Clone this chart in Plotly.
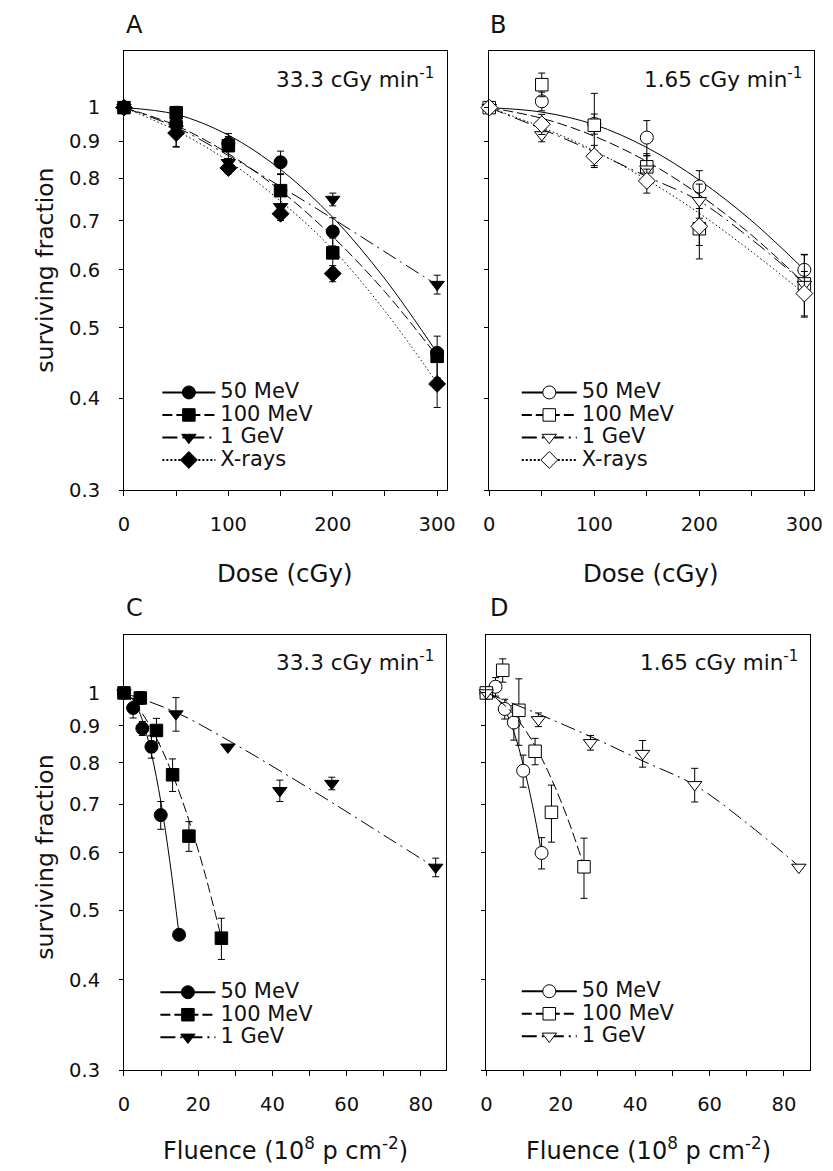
import math
import plotly.graph_objects as go

W, H = 833, 1171

# ---------------- data ----------------
dose = [0, 50, 100, 150, 200, 300]
flu_50 = [0, 2.47, 4.95, 7.4, 9.9, 14.85]
flu_100 = [0, 4.4, 8.75, 13.1, 17.5, 26.25]
flu_1g = [0, 14, 28, 42, 56, 84]

dose_fit = [0, 50, 100, 150, 200, 250, 300]
flu_fit_50 = [0, 2.47, 4.95, 7.42, 9.9, 12.37, 14.85]
flu_fit_100 = [0, 4.38, 8.75, 13.13, 17.5, 21.88, 26.25]
flu_fit_1g = [0, 14, 28, 42, 56, 70, 84]

# 33.3 cGy/min
s50_hi = [1, 0.953, 0.893, 0.842, 0.677, 0.462]
s100_hi = [1, 0.984, 0.887, 0.770, 0.633, 0.457]
s1g_hi = [1, 0.935, 0.841, 0.732, 0.749, 0.573]
sx_hi = [1, 0.923, 0.827, 0.716, 0.593, 0.419]
e50_hi = [0, 0.03, 0.02, 0.03, 0.03, 0]
e100_hi = [0, 0.02, 0.035, 0.04, 0.03, 0.03]
e1g_hi = [0, 0.05, 0, 0.025, 0.015, 0.017]
ex_hi = [0, 0.04, 0.015, 0.015, 0.015, 0.03]
fit50_hi = [1, 0.979, 0.917, 0.823, 0.708, 0.583, 0.462]
fit100_hi = [1, 0.945, 0.865, 0.77, 0.666, 0.56, 0.457]
fit1g_hi = [1, 0.94, 0.86, 0.78, 0.705, 0.635, 0.572]
fitx_hi = [1, 0.93, 0.845, 0.745, 0.64, 0.527, 0.42]

# 1.65 cGy/min
s50_lo = [1, 1.02, 0.95, 0.91, 0.78, 0.60]
s100_lo = [1, 1.075, 0.946, 0.83, 0.683, 0.574]
s1g_lo = [1, 0.918, 0.853, 0.824, 0.746, 0.573]
sx_lo = [1, 0.949, 0.858, 0.794, 0.688, 0.557]
e50_lo = [0, 0.03, 0.03, 0.05, 0.04, 0.03]
e100_lo = [0, 0.04, 0.1, 0.035, 0.062, 0.055]
e1g_lo = [0, 0.02, 0.02, 0.035, 0.04, 0]
ex_lo = [0, 0.03, 0.03, 0.03, 0.04, 0.04]
fit50_lo = [1, 0.986, 0.948, 0.882, 0.796, 0.70, 0.60]
fit100_lo = [1, 0.967, 0.914, 0.844, 0.76, 0.669, 0.575]
fit1g_lo = [1, 0.935, 0.87, 0.805, 0.745, 0.66, 0.575]
fitx_lo = [1, 0.94, 0.873, 0.797, 0.717, 0.635, 0.557]

names = ["50 MeV", "100 MeV", "1 GeV", "X-rays"]
y_ticks = [0.3, 0.4, 0.5, 0.6, 0.7, 0.8, 0.9, 1]
y_ticktext = ["0.3", "0.4", "0.5", "0.6", "0.7", "0.8", "0.9", "1"]
dose_ticks = [0, 100, 200, 300]
flu_ticks = [0, 20, 40, 60, 80]

# ---------------- styles ----------------
FONT = "DejaVu Sans"
TXT = "#111"
symbols = ["circle", "square", "triangle-down", "diamond"]
msizes = [13, 12.5, 12.5, 13]
dashes = ["solid", "10px,4px", "15px,5px,2px,5px", "1.5px,2.5px"]


def px(x, y):
    return x / W, 1 - y / H


fig = go.Figure()

axes = {"A": ("x", "y"), "B": ("x2", "y2"), "C": ("x3", "y3"), "D": ("x4", "y4")}
legends = {"A": "legend", "B": "legend2", "C": "legend3", "D": "legend4"}


def add_series(panel, i, xd, yd, ed, xf, yf, filled):
    xa, ya = axes[panel]
    mcol = "black" if filled else "white"
    fig.add_trace(go.Scatter(
        x=xf, y=yf, mode="lines", line=dict(color="black", width=1, dash=dashes[i], shape="spline"),
        xaxis=xa, yaxis=ya, showlegend=False, hoverinfo="skip", cliponaxis=False))
    fig.add_trace(go.Scatter(
        x=xd, y=yd, mode="markers",
        marker=dict(symbol=symbols[i], size=msizes[i], color=mcol, line=dict(color="black", width=1)),
        error_y=dict(type="data", array=ed, color="black", thickness=1, width=3.5),
        xaxis=xa, yaxis=ya, showlegend=False, cliponaxis=False))
    fig.add_trace(go.Scatter(
        x=[None], y=[None], mode="lines+markers",
        name="<span style='font-size:21px'>" + names[i] + "</span>",
        line=dict(color="black", width=2, dash=dashes[i] if i != 3 else "2px,2px"),
        marker=dict(symbol=symbols[i], size=msizes[i], color=mcol, line=dict(color="black", width=1)),
        xaxis=xa, yaxis=ya, legend=legends[panel]))


hi = [(s50_hi, e50_hi, fit50_hi), (s100_hi, e100_hi, fit100_hi), (s1g_hi, e1g_hi, fit1g_hi), (sx_hi, ex_hi, fitx_hi)]
lo = [(s50_lo, e50_lo, fit50_lo), (s100_lo, e100_lo, fit100_lo), (s1g_lo, e1g_lo, fit1g_lo), (sx_lo, ex_lo, fitx_lo)]
flus = [flu_50, flu_100, flu_1g]
flu_fits = [flu_fit_50, flu_fit_100, flu_fit_1g]

for i in range(4):
    s, e, f = hi[i]
    add_series("A", i, dose, s, e, dose_fit, f, True)
    s, e, f = lo[i]
    add_series("B", i, dose, s, e, dose_fit, f, False)
for i in range(3):
    s, e, f = hi[i]
    add_series("C", i, flus[i], s, e, flu_fits[i], f, True)
    s, e, f = lo[i]
    add_series("D", i, flus[i], s, e, flu_fits[i], f, False)


# ---------------- axes ----------------
def xaxis(dom, rng, ticks, minor_d, anchor):
    return dict(domain=dom, range=rng, tickvals=ticks, ticktext=[str(t) for t in ticks], anchor=anchor,
                showline=True, linecolor="black", linewidth=1, mirror=True,
                ticks="outside", ticklen=5, tickcolor="black", showgrid=False, zeroline=False,
                minor=dict(dtick=minor_d, tick0=0, ticks="outside", ticklen=5, tickcolor="black", showgrid=False),
                tickfont=dict(family=FONT, size=19.5, color=TXT), ticklabelstandoff=12, fixedrange=True)


def yaxis(dom, top, labels, anchor):
    return dict(domain=dom, type="log", range=[math.log10(0.3), math.log10(top)], anchor=anchor,
                tickvals=y_ticks, ticktext=y_ticktext, showticklabels=labels,
                showline=True, linecolor="black", linewidth=1, mirror=True,
                ticks="outside", ticklen=4, tickcolor="black", showgrid=False, zeroline=False,
                tickfont=dict(family=FONT, size=19.5, color=TXT), ticklabelstandoff=15, fixedrange=True)


top_y = [1 - 487 / H, 1 - 43.5 / H]
bot_y = [1 - 1073 / H, 1 - 633 / H]


def leg(xp, yp, iw):
    x, y = px(xp, yp)
    return dict(font=dict(family=FONT, size=15, color=TXT), bgcolor="rgba(0,0,0,0)",
                xanchor="left", yanchor="top", tracegroupgap=0, itemwidth=iw, itemclick=False,
                x=x, y=y)


fig.update_layout(
    width=W, height=H, margin=dict(l=0, r=0, t=0, b=0),
    paper_bgcolor="white", plot_bgcolor="white",
    font=dict(family=FONT, color=TXT),
    xaxis=xaxis([112 / W, 441 / W], [0, 309.5], dose_ticks, 50, "y"),
    yaxis=yaxis(top_y, 1.195, True, "x"),
    xaxis2=xaxis([484 / W, 815 / W], [0, 309.5], dose_ticks, 50, "y2"),
    yaxis2=yaxis(top_y, 1.195, False, "x2"),
    xaxis3=xaxis([112 / W, 440 / W], [0, 86.8], flu_ticks, 10, "y3"),
    yaxis3=yaxis(bot_y, 1.205, True, "x3"),
    xaxis4=xaxis([481 / W, 811 / W], [0, 87.1], flu_ticks, 10, "y4"),
    yaxis4=yaxis(bot_y, 1.205, False, "x4"),
    legend=leg(146, 372, 53),
    legend2=leg(512, 372, 55),
    legend3=leg(144, 978, 55),
    legend4=leg(512, 977, 55),
)


# ---------------- annotations ----------------
def ann(text, xp, yp, size, xanchor="center", yanchor="middle", angle=0):
    x, y = px(xp, yp)
    fig.add_annotation(text=text, x=x, y=y, xref="paper", yref="paper", showarrow=False,
                       xanchor=xanchor, yanchor=yanchor, textangle=angle,
                       font=dict(family=FONT, size=size, color=TXT))


ann("A", 123, 17, 24)
ann("B", 493, 17, 24)
ann("C", 123, 606, 24)
ann("D", 494, 606, 24)
ann("33.3 cGy min<sup>-1</sup>", 430, 71, 21.5, xanchor="right")
ann("1.65 cGy min<sup>-1</sup>", 804, 71, 21.5, xanchor="right")
ann("33.3 cGy min<sup>-1</sup>", 430, 660, 21.5, xanchor="right")
ann("1.65 cGy min<sup>-1</sup>", 800, 660, 21.5, xanchor="right")
ann("Dose (cGy)", 276, 571, 24.5)
ann("Dose (cGy)", 649, 571, 24.5)
ann("Fluence (10<sup>8</sup> p cm<sup>-2</sup>)", 276, 1153, 24)
ann("Fluence (10<sup>8</sup> p cm<sup>-2</sup>)", 646, 1153, 24)
ann("surviving fraction", 32, 265, 23.5, angle=-90)
ann("surviving fraction", 32, 858, 23.5, angle=-90)

fig.write_html("out.html")
